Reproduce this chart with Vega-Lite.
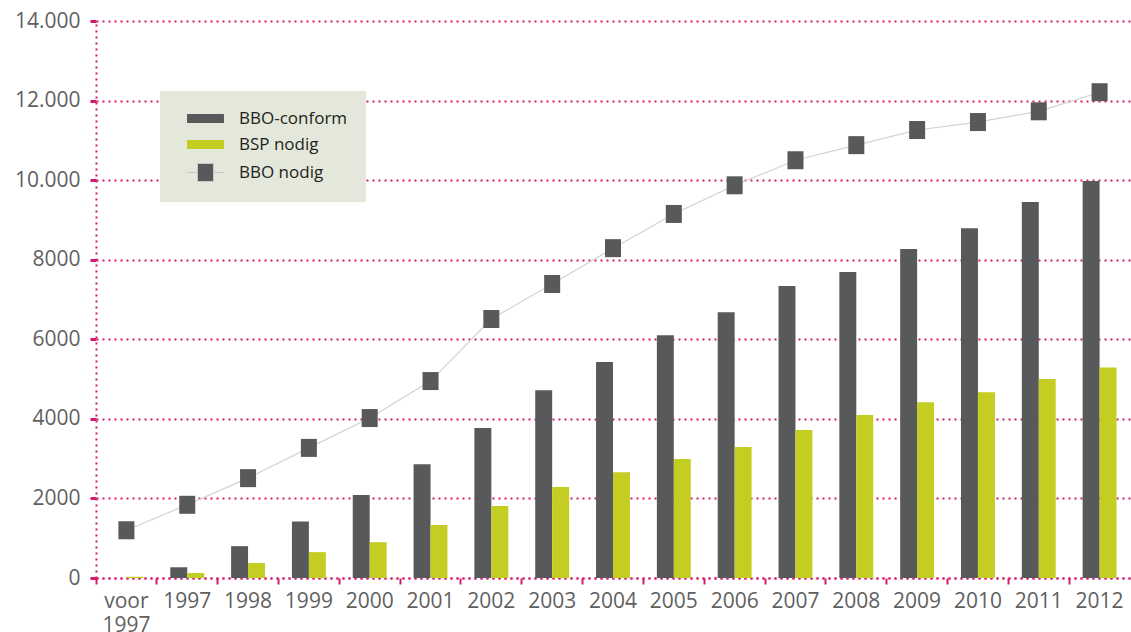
{
  "$schema": "https://vega.github.io/schema/vega-lite/v6.json",
  "width": 1034,
  "height": 557,
  "autosize": {"type": "none"},
  "padding": {"left": 96, "top": 21, "right": 1, "bottom": 54},
  "background": "white",
  "config": {"view": {"stroke": null}, "font": "Open Sans"},
  "data": {
    "values": [
      {"year": "voor 1997", "series": "BBO-conform", "value": 0},
      {"year": "voor 1997", "series": "BSP nodig", "value": 30},
      {"year": "voor 1997", "series": "BBO nodig", "value": 1200},
      {"year": "1997", "series": "BBO-conform", "value": 270},
      {"year": "1997", "series": "BSP nodig", "value": 125},
      {"year": "1997", "series": "BBO nodig", "value": 1840},
      {"year": "1998", "series": "BBO-conform", "value": 800},
      {"year": "1998", "series": "BSP nodig", "value": 375},
      {"year": "1998", "series": "BBO nodig", "value": 2510},
      {"year": "1999", "series": "BBO-conform", "value": 1420},
      {"year": "1999", "series": "BSP nodig", "value": 650},
      {"year": "1999", "series": "BBO nodig", "value": 3270},
      {"year": "2000", "series": "BBO-conform", "value": 2085},
      {"year": "2000", "series": "BSP nodig", "value": 900},
      {"year": "2000", "series": "BBO nodig", "value": 4020},
      {"year": "2001", "series": "BBO-conform", "value": 2860},
      {"year": "2001", "series": "BSP nodig", "value": 1330},
      {"year": "2001", "series": "BBO nodig", "value": 4950},
      {"year": "2002", "series": "BBO-conform", "value": 3770},
      {"year": "2002", "series": "BSP nodig", "value": 1810},
      {"year": "2002", "series": "BBO nodig", "value": 6510},
      {"year": "2003", "series": "BBO-conform", "value": 4720},
      {"year": "2003", "series": "BSP nodig", "value": 2290},
      {"year": "2003", "series": "BBO nodig", "value": 7390},
      {"year": "2004", "series": "BBO-conform", "value": 5430},
      {"year": "2004", "series": "BSP nodig", "value": 2660},
      {"year": "2004", "series": "BBO nodig", "value": 8290},
      {"year": "2005", "series": "BBO-conform", "value": 6100},
      {"year": "2005", "series": "BSP nodig", "value": 2990},
      {"year": "2005", "series": "BBO nodig", "value": 9150},
      {"year": "2006", "series": "BBO-conform", "value": 6680},
      {"year": "2006", "series": "BSP nodig", "value": 3290},
      {"year": "2006", "series": "BBO nodig", "value": 9870},
      {"year": "2007", "series": "BBO-conform", "value": 7340},
      {"year": "2007", "series": "BSP nodig", "value": 3720},
      {"year": "2007", "series": "BBO nodig", "value": 10500},
      {"year": "2008", "series": "BBO-conform", "value": 7690},
      {"year": "2008", "series": "BSP nodig", "value": 4100},
      {"year": "2008", "series": "BBO nodig", "value": 10880},
      {"year": "2009", "series": "BBO-conform", "value": 8270},
      {"year": "2009", "series": "BSP nodig", "value": 4420},
      {"year": "2009", "series": "BBO nodig", "value": 11260},
      {"year": "2010", "series": "BBO-conform", "value": 8790},
      {"year": "2010", "series": "BSP nodig", "value": 4670},
      {"year": "2010", "series": "BBO nodig", "value": 11460},
      {"year": "2011", "series": "BBO-conform", "value": 9450},
      {"year": "2011", "series": "BSP nodig", "value": 5000},
      {"year": "2011", "series": "BBO nodig", "value": 11730},
      {"year": "2012", "series": "BBO-conform", "value": 9980},
      {"year": "2012", "series": "BSP nodig", "value": 5290},
      {"year": "2012", "series": "BBO nodig", "value": 12210}
    ]
  },
  "layer": [
    {
      "transform": [{"filter": "datum.series !== 'BBO nodig'"}],
      "mark": {"type": "bar"},
      "encoding": {
        "x": {
          "field": "year", "type": "nominal",
          "sort": ["voor 1997","1997","1998","1999","2000","2001","2002","2003","2004","2005","2006","2007","2008","2009","2010","2011","2012"],
          "scale": {"paddingInner": 0, "paddingOuter": 0},
          "axis": {
            "title": null, "labelAngle": 0, "bandPosition": 0,
            "domain": true, "domainColor": "#d6186f", "domainDash": [2, 4], "domainWidth": 2,
            "ticks": true, "tickColor": "#d6186f", "tickSize": 6, "tickWidth": 2,
            "labelFont": "Open Sans", "labelFontSize": 21, "labelColor": "#5f5f5f", "labelPadding": 6,
            "labelExpr": "datum.value === 'voor 1997' ? ['voor', '1997'] : datum.value",
            "labelLineHeight": 24
          }
        },
        "xOffset": {
          "field": "series", "type": "nominal", "sort": ["BBO-conform", "BSP nodig"],
          "scale": {"paddingInner": 0, "paddingOuter": 0.794}
        },
        "y": {
          "field": "value", "type": "quantitative",
          "scale": {"domain": [0, 14000], "nice": false},
          "axis": {
            "title": null, "values": [0, 2000, 4000, 6000, 8000, 10000, 12000, 14000],
            "grid": true, "gridColor": "#d6186f", "gridDash": [2, 4], "gridWidth": 2,
            "domain": true, "domainColor": "#d6186f", "domainDash": [2, 4], "domainWidth": 2,
            "ticks": true, "tickColor": "#d6186f", "tickSize": 6, "tickWidth": 3,
            "labelFont": "Open Sans", "labelFontSize": 21, "labelColor": "#5f5f5f", "labelPadding": 10,
            "labelExpr": "datum.value >= 10000 ? replace(format(datum.value, ','), ',', '.') : format(datum.value, 'd')"
          }
        },
        "color": {
          "field": "series", "type": "nominal",
          "scale": {"domain": ["BBO-conform", "BSP nodig", "BBO nodig"], "range": ["#58595b", "#c3cd22", "#58595b"]},
          "legend": {
            "orient": "none", "legendX": 64, "legendY": 70, "title": null,
            "fillColor": "#e3e8da", "padding": 18, "symbolSize": 324, "symbolOffset": 18,
            "labelFont": "Open Sans", "labelFontSize": 17, "labelColor": "#231f20",
            "rowPadding": 8, "labelOffset": 24,
            "encode": {
              "symbols": {
                "update": {
                  "shape": {"signal": "datum.value === 'BBO nodig' ? 'M-2.05,0H-0.89M0.89,0H2.05M-0.89,-1H0.89V1H-0.89Z' : 'M-2.05,-0.5H2.05V0.5H-2.05Z'"},
                  "stroke": {"signal": "datum.value === 'BBO nodig' ? '#c8c8c8' : 'transparent'"},
                  "strokeWidth": {"value": 1}
                }
              }
            }
          }
        }
      }
    },
    {
      "transform": [{"filter": "datum.series === 'BBO nodig'"}],
      "mark": {"type": "line", "color": "#d2d2d2", "strokeWidth": 1.2},
      "encoding": {
        "x": {"field": "year", "type": "nominal",
          "sort": ["voor 1997","1997","1998","1999","2000","2001","2002","2003","2004","2005","2006","2007","2008","2009","2010","2011","2012"]},
        "y": {"field": "value", "type": "quantitative"}
      }
    },
    {
      "transform": [{"filter": "datum.series === 'BBO nodig'"}],
      "mark": {"type": "point", "filled": true, "opacity": 1, "shape": "M-0.89,-1H0.89V1H-0.89Z", "size": 324},
      "encoding": {
        "x": {"field": "year", "type": "nominal",
          "sort": ["voor 1997","1997","1998","1999","2000","2001","2002","2003","2004","2005","2006","2007","2008","2009","2010","2011","2012"]},
        "y": {"field": "value", "type": "quantitative"},
        "color": {"field": "series", "type": "nominal"}
      }
    }
  ]
}
